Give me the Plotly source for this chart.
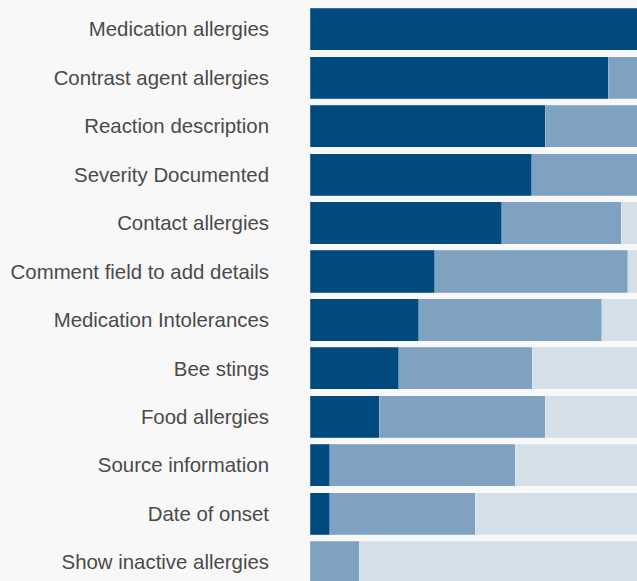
import plotly.graph_objects as go

categories = [
    "Medication allergies",
    "Contrast agent allergies",
    "Reaction description",
    "Severity Documented",
    "Contact allergies",
    "Comment field to add details",
    "Medication Intolerances",
    "Bee stings",
    "Food allergies",
    "Source information",
    "Date of onset",
    "Show inactive allergies",
]

# values in % of the visible axis width (chart is cropped at the right)
dark_values = [104, 91.2, 71.9, 67.8, 58.7, 38.2, 33.3, 27.2, 21.2, 6.0, 6.0, 0]
medium_values = [0, 12.8, 32.1, 36.2, 36.5, 58.9, 55.9, 40.7, 50.8, 56.8, 44.6, 15.1]
light_values = [0, 0, 0, 0, 8.8, 6.9, 14.8, 36.1, 32.0, 41.2, 53.4, 92.9]

colors = ["#014a7f", "#7ea2bf", "#d4dfe8"]
series = [("Dark", dark_values), ("Medium", medium_values), ("Light", light_values)]

fig = go.Figure()
for (name, vals), c in zip(series, colors):
    fig.add_trace(go.Bar(
        y=list(range(len(categories))),
        x=vals,
        orientation="h",
        name=name,
        marker=dict(color=c, line=dict(color="rgba(255,255,255,0.35)", width=0.6)),
        hoverinfo="x+name",
    ))

fig.update_layout(
    barmode="stack",
    bargap=0.13,
    width=637,
    height=581,
    margin=dict(l=310, r=0, t=0, b=0),
    paper_bgcolor="#f8f8f8",
    plot_bgcolor="#f8f8f8",
    showlegend=False,
    font=dict(family="Liberation Sans, Arial, sans-serif", size=20.4, color="#4a4a4a"),
)
fig.update_xaxes(range=[0, 100], visible=False, fixedrange=True)
fig.update_yaxes(
    tickmode="array",
    tickvals=list(range(len(categories))),
    ticktext=categories,
    range=[11.39, -0.605],
    showgrid=False,
    zeroline=False,
    showline=False,
    ticks="",
    ticklabelstandoff=40,
    fixedrange=True,
)

fig.write_html(
    "out.html",
    config={"displayModeBar": False},
    post_script="document.body.style.margin='0';document.body.style.background='#f8f8f8';",
)
